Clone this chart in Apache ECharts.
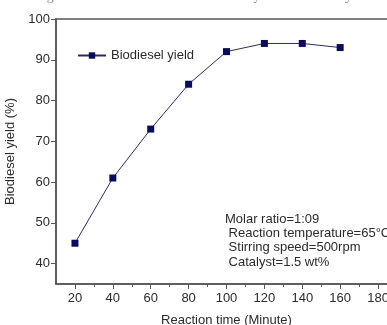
<!DOCTYPE html>
<html>
<head>
<meta charset="utf-8">
<script src="https://cdn.jsdelivr.net/npm/echarts@6/dist/echarts.min.js"></script>
<style>
  html, body { margin: 0; padding: 0; background: #fff; }
  #chart { width: 387px; height: 325px; }
</style>
</head>
<body>
<div id="chart"></div>
<script>
// reaction time (min) vs biodiesel yield (%)
const times = [20, 40, 60, 80, 100, 120, 140, 160];
const yields = [45, 61, 73, 84, 92, 94, 94, 93];
const xMajor = [20, 40, 60, 80, 100, 120, 140, 160, 180];
const xMinor = [30, 50, 70, 90, 110, 130, 150, 170];
const yTicks = [40, 50, 60, 70, 80, 90, 100];
const notes = ['Molar ratio=1:09', ' Reaction temperature=65°C', ' Stirring speed=500rpm', ' Catalyst=1.5 wt%'];

const chart = echarts.init(document.getElementById('chart'));
const axisCol = '#555';
const txtCol = '#2b2b2b';
const font = 'Arial, "Liberation Sans", sans-serif';

const option = {
  animation: false,
  grid: {
    left: 56, right: -10, top: 19, bottom: 41,
    outerBoundsMode: 'none', containLabel: false,
    show: true, borderColor: axisCol, borderWidth: 1.5,
    backgroundColor: 'transparent'
  },
  legend: {
    left: 72, top: 44,
    itemWidth: 28, itemHeight: 8, itemGap: 2,
    textStyle: { color: txtCol, fontSize: 13, fontFamily: font },
    data: ['Biodiesel yield']
  },
  xAxis: [
    {
      type: 'value', min: 10, max: 190,
      name: 'Reaction time (Minute)', nameLocation: 'middle', nameGap: 30,
      nameTextStyle: { color: txtCol, fontSize: 13, fontFamily: font },
      axisLine: { lineStyle: { color: axisCol, width: 1.5 } },
      axisTick: { customValues: xMajor, length: 5, lineStyle: { color: axisCol } },
      axisLabel: { customValues: xMajor, color: txtCol, fontSize: 13, fontFamily: font, margin: 8, hideOverlap: false },
      splitLine: { show: false }
    },
    {
      type: 'value', min: 10, max: 190, position: 'bottom',
      axisLine: { show: false },
      axisTick: { customValues: xMinor, length: 3, lineStyle: { color: axisCol } },
      axisLabel: { show: false },
      splitLine: { show: false }
    }
  ],
  yAxis: {
    type: 'value', min: 35, max: 100,
    name: 'Biodiesel yield (%)', nameLocation: 'middle', nameGap: 35,
    nameTextStyle: { color: txtCol, fontSize: 13, fontFamily: font },
    axisLine: { show: true, lineStyle: { color: axisCol, width: 1.5 } },
    axisTick: { show: true, customValues: yTicks, length: 5, lineStyle: { color: axisCol } },
    axisLabel: { customValues: yTicks, color: txtCol, fontSize: 13, fontFamily: font, margin: 6 },
    splitLine: { show: false }
  },
  series: [{
    name: 'Biodiesel yield',
    type: 'line',
    data: times.map((t, i) => [t, yields[i]]),
    symbol: 'rect', symbolSize: 7,
    itemStyle: { color: '#0b0b5e' },
    lineStyle: { color: '#2c2c5c', width: 1 }
  }],
  graphic: [
    {
      type: 'text', left: 35, top: -11,
      style: { text: 'Figure 4 Effect of molar ratio and catalyst on biodiesel yield',
        fill: '#888', font: '14px "Liberation Serif", serif' }
    },
    {
      type: 'text', left: 225, top: 212,
      style: { text: notes.join('\n'), fill: txtCol, lineHeight: 14.3,
        font: '13px Arial, "Liberation Sans", sans-serif' }
    }
  ]
};
chart.setOption(option);
</script>
</body>
</html>
